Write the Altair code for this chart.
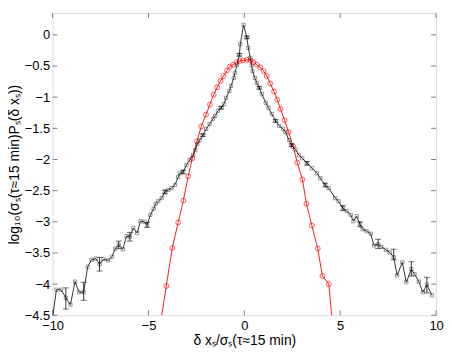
import altair as alt
import pandas as pd

# ---- data ----
black_x = [-10.05, -9.80, -9.56, -9.31, -9.07, -8.83, -8.62, -8.38, -8.17, -7.97, -7.76, -7.55,
           -7.35, -7.11, -6.90, -6.73, -6.55, -6.34, -6.14, -5.97, -5.79, -5.59, -5.42, -5.21,
           -5.07, -4.90, -4.73, -4.62, -4.49, -4.31, -4.14, -3.97, -3.80, -3.62, -3.45, -3.36,
           -3.19, -3.02, -2.85, -2.67, -2.56, -2.45, -2.33, -2.16, -1.99, -1.81, -1.64, -1.52,
           -1.38, -1.21, -1.07, -0.95, -0.78, -0.69, -0.55, -0.49, -0.38, -0.26, -0.21, -0.04,
           0.13, 0.21, 0.31, 0.38, 0.43, 0.55, 0.65, 0.78, 0.91, 1.12, 1.26, 1.43, 1.63, 1.81,
           2.02, 2.15, 2.33, 2.46, 2.67, 2.85, 3.02, 3.27, 3.53, 3.79, 3.96, 4.22, 4.40, 4.74,
           4.91, 5.14, 5.34, 5.55, 5.69, 5.86, 6.03, 6.17, 6.38, 6.59, 6.76, 6.98, 7.15, 7.38,
           7.58, 7.79, 7.97, 8.24, 8.45, 8.71, 8.88, 9.10, 9.31, 9.52, 9.79]
black_y = [-4.65, -4.09, -4.09, -4.22, -4.33, -3.96, -4.13, -4.13, -3.72, -3.61, -3.59, -3.68,
           -3.60, -3.62, -3.56, -3.43, -3.37, -3.44, -3.23, -3.24, -3.10, -3.18, -2.99, -3.00,
           -3.05, -2.89, -2.79, -2.71, -2.67, -2.62, -2.52, -2.49, -2.46, -2.41, -2.28, -2.22,
           -2.20, -2.09, -2.01, -1.93, -1.85, -1.75, -1.69, -1.61, -1.51, -1.43, -1.35, -1.30,
           -1.22, -1.17, -1.11, -1.01, -0.90, -0.82, -0.69, -0.61, -0.48, -0.32, -0.15, 0.16,
           -0.04, -0.21, -0.37, -0.49, -0.58, -0.69, -0.77, -0.85, -0.95, -1.09, -1.17, -1.27,
           -1.38, -1.46, -1.51, -1.56, -1.69, -1.77, -1.84, -1.93, -1.98, -2.06, -2.14, -2.22,
           -2.30, -2.41, -2.46, -2.62, -2.67, -2.78, -2.83, -2.89, -2.99, -2.91, -3.04, -3.12,
           -3.15, -3.19, -3.38, -3.36, -3.40, -3.45, -3.49, -3.57, -3.86, -3.65, -3.97, -3.76,
           -3.84, -3.96, -4.13, -4.01, -4.18]

red_x = [-4.36, -4.07, -3.76, -3.45, -3.18, -2.93, -2.71, -2.47, -2.25, -2.00, -1.80, -1.60,
         -1.42, -1.24, -1.09, -0.90, -0.76, -0.59, -0.41, -0.24, -0.07, 0.13, 0.31, 0.48, 0.65,
         0.83, 1.00, 1.17, 1.35, 1.55, 1.72, 1.89, 2.10, 2.31, 2.55, 2.76, 3.03, 3.24, 3.52,
         3.83, 4.07, 4.41, 4.58]
red_y = [-4.60, -4.03, -3.42, -3.01, -2.66, -2.27, -1.98, -1.71, -1.47, -1.28, -1.12, -0.96,
         -0.84, -0.74, -0.66, -0.57, -0.51, -0.48, -0.44, -0.42, -0.41, -0.40, -0.41, -0.44,
         -0.48, -0.52, -0.58, -0.66, -0.78, -0.91, -1.04, -1.19, -1.37, -1.56, -1.79, -2.05,
         -2.32, -2.71, -3.06, -3.43, -3.87, -4.00, -4.60]

err_x = [-9.31, -8.38, -7.55, -6.55, -5.97, -5.07, -4.14, -3.19, -2.16, -1.21, -0.26, 0.13,
         0.78, 1.63, 2.46, 3.27, 4.22, 5.14, 6.03, 6.98, 7.79, 8.71, 9.52]
err_lo = [-4.40, -4.26, -3.79, -3.43, -3.31, -3.09, -2.55, -2.23, -1.63, -1.19, -0.34, -0.06,
          -0.87, -1.40, -1.79, -2.09, -2.44, -2.82, -3.08, -3.43, -3.61, -3.87, -4.14]
err_hi = [-4.06, -3.97, -3.57, -3.31, -3.17, -3.01, -2.49, -2.17, -1.59, -1.15, -0.30, -0.02,
          -0.83, -1.36, -1.75, -2.03, -2.38, -2.74, -3.00, -3.28, -3.44, -3.64, -3.89]

x_ticks = [-10, -5, 0, 5, 10]
y_ticks = [0, -0.5, -1, -1.5, -2, -2.5, -3, -3.5, -4, -4.5]

W, H = 387, 305
FONT = "Liberation Sans"
FRAME = "#7f7f7f"

black = pd.DataFrame({"x": black_x, "y": black_y})
red = pd.DataFrame({"x": red_x, "y": red_y})
err = pd.DataFrame({"x": err_x, "y": err_lo, "y2": err_hi})
caps = pd.DataFrame({"x": err_x + err_x, "y": err_lo + err_hi})
xt = pd.DataFrame({"x": x_ticks})
yt = pd.DataFrame({"y": y_ticks})

xs = alt.Scale(domain=[-10, 10], nice=False, zero=False)
ys = alt.Scale(domain=[-4.5, 0.35], nice=False, zero=False)

x_axis = alt.Axis(values=x_ticks, format="d", tickSize=0, labelPadding=4, grid=False,
                  domain=False, labelFlush=False, labelOverlap=False,
                  title="δ xₛ/σₛ(τ≈15 min)", titleY=25, titleBaseline="middle",
                  titleFontWeight="normal", titleFontSize=14, labelFontSize=13,
                  labelFont=FONT, titleFont=FONT, labelColor="black", titleColor="black")
y_axis = alt.Axis(values=y_ticks, format=".1~f", tickSize=0, labelPadding=3, grid=False,
                  domain=False, labelFlush=False, labelOverlap=False,
                  title="log₁₀(σₛ(τ≈15 min)Pₛ(δ xₛ))", titleX=-38.5, titleY=H / 2,
                  titleBaseline="middle", titleAngle=270,
                  titleFontWeight="normal", titleFontSize=14, labelFontSize=13,
                  labelFont=FONT, titleFont=FONT, labelColor="black", titleColor="black")

X = alt.X("x:Q", scale=xs, axis=x_axis)
Y = alt.Y("y:Q", scale=ys, axis=y_axis)

red_line = alt.Chart(red).mark_line(color="#ff0000", strokeWidth=0.9, clip=True).encode(x=X, y=Y)
red_pts = alt.Chart(red).mark_point(shape="circle", filled=False, color="#ff0000", size=24,
                                    strokeWidth=0.9, clip=True).encode(x=X, y=Y)
blk_line = alt.Chart(black).mark_line(color="black", strokeWidth=0.8, clip=True).encode(x=X, y=Y)
blk_pts = alt.Chart(black).mark_point(shape="square", filled=False, color="#333333", size=11,
                                      strokeWidth=0.7, clip=True).encode(x=X, y=Y)
err_rule = alt.Chart(err).mark_rule(color="black", strokeWidth=0.8).encode(
    x=X, y=Y, y2=alt.Y2("y2:Q"))
err_caps = alt.Chart(caps).mark_point(shape="M-1,0L1,0", size=36, filled=False, color="black",
                                      strokeWidth=0.8).encode(x=X, y=Y)

tick_b = alt.Chart(xt).mark_rule(color=FRAME, strokeWidth=1).encode(
    x=X, y=alt.value(H), y2=alt.value(H - 5))
tick_t = alt.Chart(xt).mark_rule(color=FRAME, strokeWidth=1).encode(
    x=X, y=alt.value(0), y2=alt.value(5))
tick_l = alt.Chart(yt).mark_rule(color=FRAME, strokeWidth=1).encode(
    y=Y, x=alt.value(0), x2=alt.value(5))
tick_r = alt.Chart(yt).mark_rule(color=FRAME, strokeWidth=1).encode(
    y=Y, x=alt.value(W), x2=alt.value(W - 5))

chart = alt.layer(
    tick_b, tick_t, tick_l, tick_r,
    red_line, red_pts, blk_line, blk_pts, err_rule, err_caps
).properties(
    width=W, height=H,
    autosize=alt.AutoSizeParams(type="none"),
    padding={"left": 45, "top": 3.5, "right": 8, "bottom": 40},
).configure_view(stroke=FRAME, strokeWidth=1.2).configure(background="white")

chart.save("out.html", embed_options={"renderer": "svg", "actions": False})
